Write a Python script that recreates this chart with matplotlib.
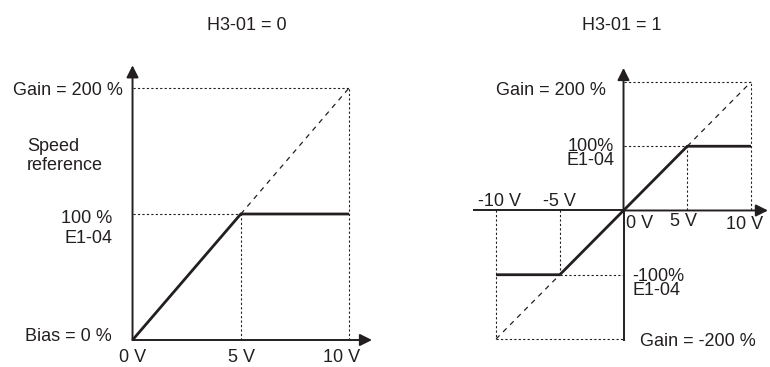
import matplotlib
matplotlib.use('Agg')
import matplotlib.pyplot as plt

plt.rcParams['font.family'] = ['Liberation Sans', 'DejaVu Sans']

W, H = 770, 367
INK = '#231f20'
FS = 13

# ---------------- data ----------------
left_volts = [0, 5, 10]
left_ref = [0, 100, 100]
left_ext_volts = [5, 10]
left_ext_ref = [100, 200]
left_xticks = [0, 5, 10]
left_xlabels = ['0 V', '5 V', '10 V']

right_volts = [-10, -5, 0, 5, 10]
right_ref = [-100, -100, 0, 100, 100]
right_ext_pos_volts = [5, 10]
right_ext_pos_ref = [100, 200]
right_ext_neg_volts = [-10, -5]
right_ext_neg_ref = [-200, -100]
right_xticks = [-10, -5, 0, 5, 10]
right_xlabels = ['-10 V', '-5 V', '0 V', '5 V', '10 V']

fig = plt.figure(figsize=(W / 100, H / 100), dpi=100)


def ftext(x, y, s, ha='left', va='baseline', **kw):
    fig.text(x / W, 1 - y / H, s, ha=ha, va=va, fontsize=FS, color=INK, **kw)


DOT = dict(color=INK, lw=0.8, linestyle=(0, (2, 2)))
DASH = dict(color=INK, lw=0.9, linestyle=(0, (4, 4)))
SOLID = dict(color=INK, lw=2.0, solid_capstyle='butt', solid_joinstyle='miter')


def arrow(ax, start, tip):
    ax.annotate('', xy=tip, xytext=start,
                arrowprops=dict(arrowstyle='-|>', color=INK, lw=1.4,
                                mutation_scale=18, shrinkA=0, shrinkB=0))


# ---------------- left panel ----------------
ax1 = fig.add_axes([0, 0, 0.5, 1])
ax1.set_xlim(-6.12, 11.66)
ax1.set_ylim(-21.43, 269.84)
ax1.axis('off')

top1 = left_ext_ref[-1]
# dotted guide lines
ax1.plot([0, left_volts[-1]], [top1, top1], **DOT)
ax1.plot([left_volts[-1], left_volts[-1]], [0, top1], **DOT)
ax1.plot([0, left_volts[1]], [left_ref[1], left_ref[1]], **DOT)
ax1.plot([left_volts[1], left_volts[1]], [0, left_ref[1]], **DOT)
# dashed extension
ax1.plot(left_ext_volts, left_ext_ref, **DASH)
# characteristic
ax1.plot(left_volts, left_ref, **SOLID)
# axes
arrow(ax1, (0, 0), (0, 218))
arrow(ax1, (0, 0), (11.06, 0))

ftext(247, 30.5, 'H3-01 = 0', ha='center')
ftext(123, 95, 'Gain = 200 %', ha='right')
ftext(27, 170, 'Speed\nreference', linespacing=1.15)
ftext(112, 243, '100 %\nE1-04', ha='right', multialignment='right', linespacing=1.2)
ftext(112, 341, 'Bias = 0 %', ha='right')
left_label_dx = [0, 1, -7]
for v, lab, dx in zip(left_xticks, left_xlabels, left_label_dx):
    ax1.annotate(lab, xy=(v, 0), xytext=(dx, -22), textcoords='offset pixels',
                 ha='center', va='baseline', fontsize=FS, color=INK)

# ---------------- right panel ----------------
ax2 = fig.add_axes([0.5, 0, 0.5, 1])
ax2.set_xlim(-18.71, 11.49)
ax2.set_ylim(-243.6, 327.6)
ax2.axis('off')

top2 = right_ext_pos_ref[-1]
bot2 = right_ext_neg_ref[0]
ax2.plot([0, right_volts[-1]], [top2, top2], **DOT)
ax2.plot([right_volts[-1], right_volts[-1]], [0, top2], **DOT)
ax2.plot([0, right_volts[3]], [right_ref[3], right_ref[3]], **DOT)
ax2.plot([right_volts[3], right_volts[3]], [0, right_ref[3]], **DOT)
ax2.plot([right_volts[1], 0], [right_ref[1], right_ref[1]], **DOT)
ax2.plot([right_volts[1], right_volts[1]], [0, right_ref[1]], **DOT)
ax2.plot([right_volts[0], right_volts[0]], [0, bot2], **DOT)
ax2.plot([right_volts[0], 0], [bot2, bot2], **DOT)
ax2.plot(right_ext_pos_volts, right_ext_pos_ref, **DASH)
ax2.plot(right_ext_neg_volts, right_ext_neg_ref, **DASH)
ax2.plot(right_volts, right_ref, **SOLID)
ax2.plot([-11.8, 0], [0, 0], color=INK, lw=1.4, solid_capstyle='butt')
arrow(ax2, (0, 0), (11.33, 0))
ax2.plot([0, 0], [bot2 - 3, 0], color=INK, lw=1.4, solid_capstyle='butt')
arrow(ax2, (0, 0), (0, 221.8))

ftext(622, 30.5, 'H3-01 = 1', ha='center')
ftext(606, 95, 'Gain = 200 %', ha='right')
ftext(614, 165, '100%\nE1-04', ha='right', multialignment='right', linespacing=0.78)
ftext(632, 295, '-100%\nE1-04', multialignment='left', linespacing=0.78)
ftext(640, 346, 'Gain = -200 %')
# tick labels: (dx, dy) pixel offsets from (v, 0)
right_label_off = [(3, 4), (0, 4), (16, -18), (-4, -16), (-6, -19)]
for v, lab, (dx, dy) in zip(right_xticks, right_xlabels, right_label_off):
    ax2.annotate(lab, xy=(v, 0), xytext=(dx, dy), textcoords='offset pixels',
                 ha='center', va='baseline', fontsize=FS, color=INK)

fig.savefig('out.png', dpi=100, facecolor='white')
